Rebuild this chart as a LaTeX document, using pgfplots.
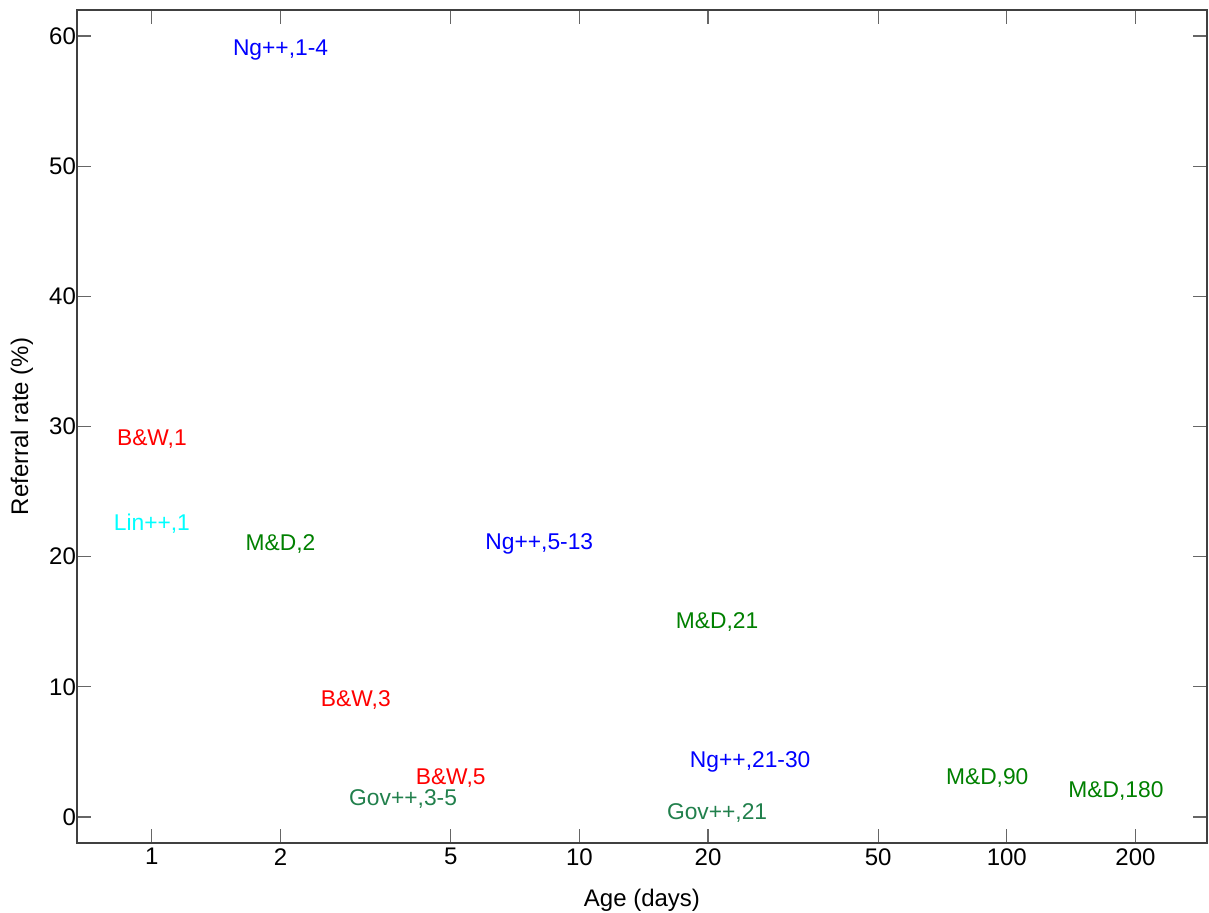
\documentclass[border=0pt]{standalone}
\usepackage{pgfplots}
\pgfplotsset{compat=1.18}
\usepackage{fontspec}
\setmainfont{Liberation Sans}
\definecolor{ngblue}{rgb}{0,0,1}
\definecolor{bwred}{rgb}{1,0,0}
\definecolor{lincyan}{rgb}{0,1,1}
\definecolor{mdgreen}{rgb}{0,0.5,0}
\definecolor{govgreen}{rgb}{0.13,0.5,0.3}
\newcommand{\fs}{\fontsize{12pt}{14pt}\selectfont}
\newcommand{\fd}{\fontsize{11.4pt}{14pt}\selectfont}
\begin{document}
\begin{tikzpicture}
\begin{axis}[
  scale only axis,
  width=565pt, height=416.5pt,
  xmode=log,
  xmin=0.668, xmax=294,
  ymin=-2, ymax=62,
  xtick={1,2,5,10,20,50,100,200},
  xticklabels={1,2,5,10,20,50,100,200},
  ytick={0,10,20,30,40,50,60},
  minor xtick={},
  xminorticks=false,
  tick align=inside,
  major tick length=7pt,
  axis line style={black!75, line width=0.6pt},
  every tick/.style={black!60, line width=0.6pt},
  tick label style={font=\fs},
  /pgf/number format/assume math mode=true,
  xticklabel style={yshift=0.8pt},
  yticklabel style={xshift=3pt},
  xlabel={Age (days)},
  ylabel={Referral rate (\%)},
  label style={font=\fs, inner sep=0pt},
  xlabel style={at={(axis description cs:0.5,0)}, anchor=center, yshift=-28.5pt},
  ylabel style={at={(axis description cs:0,0.5)}, anchor=center, yshift=27.5pt},
  nodes near coords={\pgfplotspointmeta},
  nodes near coords align={center},
  point meta=explicit symbolic,
  every node near coord/.append style={font=\fd, inner sep=0pt},
]
% Ng++ studies (blue)
\addplot[only marks, mark=none, nodes near coords style={text=ngblue}] coordinates {
  (2,58.95) [{Ng++,1-4}]
  (8.06,21.0) [{Ng++,5-13}]
  (25.1,4.2) [{Ng++,21-30}]
};
% B&W studies (red)
\addplot[only marks, mark=none, nodes near coords style={text=bwred}] coordinates {
  (1,29.0) [{B\&W,1}]
  (3,9.0) [{B\&W,3}]
  (5,3.0) [{B\&W,5}]
};
% Lin++ (cyan)
\addplot[only marks, mark=none, nodes near coords style={text=lincyan}] coordinates {
  (1,22.5) [{Lin++,1}]
};
% M&D studies (green)
\addplot[only marks, mark=none, nodes near coords style={text=mdgreen}] coordinates {
  (2,21.0) [{M\&D,2}]
  (21,15.0) [{M\&D,21}]
  (90,3.0) [{M\&D,90}]
  (180,2.0) [{M\&D,180}]
};
% Gov++ studies (teal green)
\addplot[only marks, mark=none, nodes near coords style={text=govgreen}] coordinates {
  (3.87,1.4) [{Gov++,3-5}]
  (21,0.3) [{Gov++,21}]
};
\end{axis}
% fixed page margins around the axis box
\pgfresetboundingbox
\useasboundingbox ([xshift=-38.5pt,yshift=-35pt]current axis.south west)
  rectangle ([xshift=1pt,yshift=5pt]current axis.north east);
\end{tikzpicture}
\end{document}
